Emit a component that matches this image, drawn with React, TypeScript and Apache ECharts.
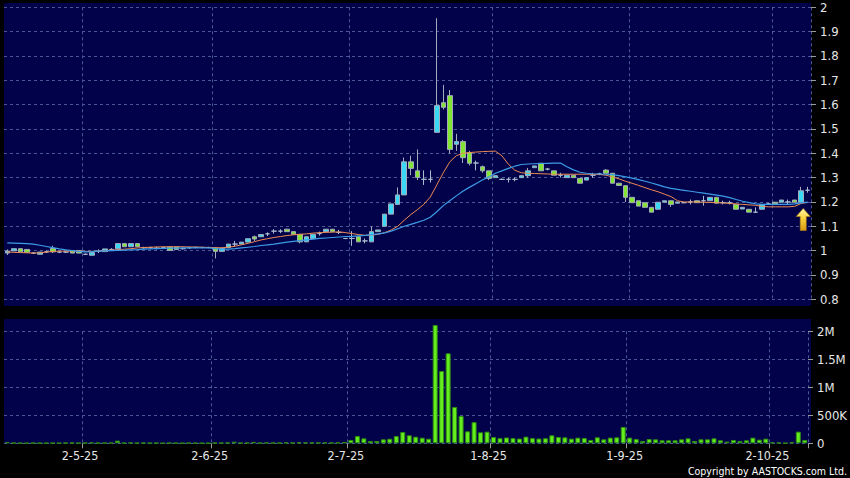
import React, { useEffect, useRef } from "react";
import * as echarts from "echarts";

// Trading days (HK), April–October 2025
const aprDays = [11, 14, 15, 16, 17, 22, 23, 24, 25, 28, 29, 30];
const mayDays = [2, 6, 7, 8, 9, 12, 13, 14, 15, 16, 19, 20, 21, 22, 23, 26, 27, 28, 29, 30];
const junDays = [2, 3, 4, 5, 6, 9, 10, 11, 12, 13, 16, 17, 18, 19, 20, 23, 24, 25, 26, 27, 30];
const julDays = [2, 3, 4, 7, 8, 9, 10, 11, 14, 15, 16, 17, 18, 21, 22, 23, 24, 25, 28, 29, 30, 31];
const augDays = [1, 4, 5, 6, 7, 8, 11, 12, 13, 14, 15, 18, 19, 20, 21, 22, 25, 26, 27, 28, 29];
const sepDays = [1, 2, 3, 4, 5, 8, 9, 10, 11, 12, 15, 16, 17, 18, 19, 22, 23, 24, 25, 26, 29, 30];
const octDays = [2, 3, 6, 8, 9, 10];

const labelDates = ["2-5-25", "2-6-25", "2-7-25", "1-8-25", "1-9-25", "2-10-25"];

const opens = [
  0.990, 0.999, 1.008, 1.005, 0.990, 0.985, 0.995, 1.009, 0.994, 0.994, 1.000, 1.000,
  0.985, 0.981, 0.997, 0.996, 1.005, 1.008, 1.029, 1.016, 1.029, 1.012, 1.012, 1.010,
  1.012, 1.015, 1.015, 1.008, 1.012, 1.013, 1.013, 1.013, 1.011, 0.997, 1.013, 1.027,
  1.027, 1.035, 1.057, 1.057, 1.069, 1.080, 1.080, 1.088, 1.078, 1.067, 1.036, 1.050,
  1.070, 1.078, 1.088, 1.075, 1.050, 1.050, 1.057, 1.040, 1.036, 1.078, 1.100, 1.150,
  1.190, 1.229, 1.365, 1.328, 1.293, 1.293, 1.486, 1.608, 1.637, 1.437, 1.448, 1.403,
  1.360, 1.345, 1.328, 1.300, 1.293, 1.293, 1.293, 1.300, 1.308, 1.341, 1.359, 1.335,
  1.328, 1.310, 1.300, 1.310, 1.297, 1.290, 1.310, 1.315, 1.331, 1.318, 1.277, 1.267,
  1.219, 1.205, 1.197, 1.178, 1.170, 1.199, 1.205, 1.195, 1.197, 1.200, 1.205, 1.205,
  1.205, 1.219, 1.197, 1.197, 1.190, 1.171, 1.170, 1.158, 1.170, 1.192, 1.199, 1.199,
  1.200, 1.208, 1.199, 1.248,
];
const closes = [
  0.998, 1.008, 0.995, 0.993, 0.990, 0.994, 0.995, 0.995, 0.994, 0.994, 0.990, 0.990,
  0.985, 0.992, 0.997, 1.007, 1.005, 1.029, 1.016, 1.029, 1.016, 1.012, 1.012, 1.010,
  1.012, 1.001, 1.005, 1.008, 1.012, 1.013, 1.013, 1.013, 0.997, 1.009, 1.027, 1.027,
  1.035, 1.049, 1.048, 1.066, 1.069, 1.080, 1.080, 1.078, 1.067, 1.036, 1.057, 1.067,
  1.070, 1.088, 1.078, 1.075, 1.050, 1.050, 1.036, 1.040, 1.078, 1.085, 1.150, 1.192,
  1.229, 1.365, 1.338, 1.301, 1.293, 1.293, 1.596, 1.589, 1.416, 1.448, 1.382, 1.359,
  1.360, 1.328, 1.297, 1.308, 1.293, 1.293, 1.293, 1.308, 1.328, 1.348, 1.328, 1.335,
  1.310, 1.310, 1.310, 1.300, 1.277, 1.300, 1.310, 1.315, 1.318, 1.277, 1.268, 1.219,
  1.197, 1.183, 1.178, 1.158, 1.199, 1.205, 1.190, 1.200, 1.197, 1.200, 1.197, 1.205,
  1.219, 1.195, 1.197, 1.197, 1.170, 1.178, 1.158, 1.158, 1.190, 1.192, 1.192, 1.208,
  1.200, 1.199, 1.246, 1.248,
];
const lows = [
  0.982, 0.999, 0.995, 0.993, 0.986, 0.985, 0.990, 0.990, 0.990, 0.990, 0.990, 0.990,
  0.982, 0.981, 0.990, 0.996, 1.000, 1.005, 1.016, 1.016, 1.016, 1.008, 1.008, 1.005,
  1.008, 1.001, 1.005, 1.005, 1.008, 1.010, 1.010, 1.010, 0.968, 0.997, 1.013, 1.015,
  1.027, 1.035, 1.040, 1.057, 1.060, 1.070, 1.072, 1.078, 1.067, 1.030, 1.036, 1.050,
  1.062, 1.078, 1.078, 1.068, 1.047, 1.020, 1.036, 1.030, 1.036, 1.078, 1.100, 1.150,
  1.190, 1.229, 1.310, 1.290, 1.270, 1.280, 1.486, 1.580, 1.400, 1.410, 1.360, 1.350,
  1.330, 1.320, 1.290, 1.300, 1.290, 1.280, 1.285, 1.300, 1.300, 1.341, 1.328, 1.330,
  1.310, 1.300, 1.300, 1.300, 1.277, 1.290, 1.300, 1.310, 1.318, 1.277, 1.268, 1.200,
  1.197, 1.183, 1.178, 1.158, 1.170, 1.199, 1.180, 1.195, 1.195, 1.190, 1.197, 1.185,
  1.205, 1.195, 1.190, 1.190, 1.170, 1.171, 1.158, 1.158, 1.170, 1.188, 1.192, 1.199,
  1.190, 1.199, 1.199, 1.238,
];
const highs = [
  1.005, 1.008, 1.008, 1.005, 0.994, 0.994, 1.000, 1.020, 0.998, 0.998, 1.000, 1.000,
  0.988, 0.992, 1.005, 1.007, 1.010, 1.029, 1.029, 1.029, 1.029, 1.016, 1.016, 1.016,
  1.016, 1.015, 1.015, 1.012, 1.016, 1.016, 1.016, 1.016, 1.013, 1.009, 1.027, 1.040,
  1.035, 1.049, 1.062, 1.066, 1.075, 1.088, 1.088, 1.090, 1.078, 1.067, 1.057, 1.067,
  1.078, 1.088, 1.088, 1.085, 1.052, 1.080, 1.057, 1.050, 1.100, 1.085, 1.150, 1.192,
  1.260, 1.383, 1.390, 1.416, 1.330, 1.330, 1.955, 1.681, 1.660, 1.480, 1.455, 1.410,
  1.370, 1.350, 1.328, 1.308, 1.296, 1.300, 1.300, 1.308, 1.340, 1.348, 1.359, 1.340,
  1.328, 1.320, 1.310, 1.310, 1.297, 1.300, 1.320, 1.320, 1.335, 1.318, 1.277, 1.267,
  1.219, 1.205, 1.197, 1.178, 1.199, 1.205, 1.205, 1.200, 1.200, 1.210, 1.205, 1.225,
  1.219, 1.219, 1.205, 1.205, 1.190, 1.178, 1.170, 1.178, 1.190, 1.196, 1.199, 1.208,
  1.210, 1.208, 1.262, 1.262,
];
const ma10 = [
  0.995, 0.993, 0.992, 0.991, 0.990, 0.991, 0.994, 0.997, 0.998, 0.998, 0.998, 0.998,
  0.997, 0.997, 0.998, 1.000, 1.002, 1.004, 1.006, 1.008, 1.011, 1.013, 1.014, 1.015,
  1.016, 1.016, 1.016, 1.016, 1.015, 1.015, 1.014, 1.013, 1.012, 1.012, 1.014, 1.018,
  1.024, 1.030, 1.037, 1.044, 1.049, 1.054, 1.058, 1.062, 1.065, 1.067, 1.069, 1.072,
  1.074, 1.075, 1.076, 1.077, 1.074, 1.070, 1.066, 1.063, 1.064, 1.067, 1.074, 1.085,
  1.100, 1.125, 1.148, 1.168, 1.190, 1.220, 1.270, 1.320, 1.365, 1.390, 1.400, 1.403,
  1.405, 1.407, 1.408, 1.409, 1.390, 1.355, 1.330, 1.320, 1.318, 1.317, 1.316, 1.315,
  1.314, 1.314, 1.314, 1.314, 1.314, 1.314, 1.314, 1.313, 1.310, 1.303, 1.295, 1.285,
  1.277, 1.268, 1.259, 1.250, 1.242, 1.232, 1.222, 1.205, 1.200, 1.200, 1.200, 1.199,
  1.198, 1.197, 1.196, 1.194, 1.192, 1.190, 1.188, 1.186, 1.182, 1.180, 1.180, 1.180,
  1.180, 1.182, 1.194, 1.198,
];
const ma20 = [
  1.032, 1.031, 1.030, 1.029, 1.027, 1.022, 1.017, 1.012, 1.007, 1.003, 1.000, 0.997,
  0.995, 0.996, 0.998, 0.999, 1.000, 1.001, 1.002, 1.003, 1.004, 1.006, 1.007, 1.008,
  1.009, 1.010, 1.010, 1.011, 1.011, 1.011, 1.011, 1.011, 1.008, 1.006, 1.006, 1.008,
  1.011, 1.014, 1.017, 1.021, 1.024, 1.027, 1.031, 1.035, 1.038, 1.041, 1.044, 1.047,
  1.050, 1.052, 1.054, 1.056, 1.058, 1.059, 1.061, 1.063, 1.066, 1.069, 1.073, 1.080,
  1.090, 1.100, 1.108, 1.116, 1.125, 1.137, 1.160, 1.185, 1.205, 1.225, 1.244, 1.260,
  1.275, 1.290, 1.303, 1.318, 1.328, 1.338, 1.347, 1.354, 1.356, 1.357, 1.358, 1.359,
  1.360, 1.360, 1.345, 1.332, 1.322, 1.318, 1.316, 1.315, 1.314, 1.312, 1.308, 1.303,
  1.298, 1.292, 1.285, 1.278, 1.270, 1.262, 1.256, 1.252, 1.248, 1.244, 1.240, 1.236,
  1.232, 1.228, 1.224, 1.218, 1.210, 1.203, 1.197, 1.192, 1.190, 1.190, 1.190, 1.190,
  1.190, 1.192, 1.196, 1.199,
];
// volume in thousands of shares
const volumeK = [
  20, 8, 6, 5, 8, 5, 6, 8, 5, 10, 12, 6,
  8, 15, 8, 10, 12, 48, 10, 15, 8, 12, 6, 8,
  5, 8, 6, 5, 8, 6, 5, 4, 10, 8, 12, 28,
  8, 12, 25, 10, 15, 12, 10, 15, 12, 18, 15, 14,
  12, 15, 12, 15, 23, 59, 130, 89, 41, 41, 71, 82,
  130, 202, 143, 118, 100, 82, 2112, 1291, 1607, 648, 488, 214,
  378, 196, 208, 112, 92, 104, 92, 85, 119, 92, 85, 90,
  143, 113, 107, 83, 101, 95, 60, 107, 71, 101, 107, 292,
  101, 77, 42, 77, 71, 54, 54, 54, 71, 89, 42, 71,
  71, 89, 54, 30, 60, 42, 54, 101, 65, 83, 18, 12,
  5, 18, 208, 60,
];

const ARROW_PRICE = 1.128;

const monthDays: [number, number[]][] = [
  [4, aprDays], [5, mayDays], [6, junDays], [7, julDays], [8, augDays], [9, sepDays], [10, octDays],
];
const categories = monthDays.flatMap(([m, ds]) => ds.map((d) => `${d}-${m}-25`));
const labelIdx = new Set(labelDates.map((d) => categories.indexOf(d)));
const showAt = (i: number) => labelIdx.has(i);

const NAVY = "#02024a";
const GRID_LINE = "#4b5894";
const TEXT = "#e6e6e6";
const FONT = "'Liberation Sans Narrow','Arial Narrow','DejaVu Sans Condensed',sans-serif";

export default function App() {
  const ref = useRef<HTMLDivElement>(null);
  useEffect(() => {
    if (!ref.current) return;
    const chart = echarts.init(ref.current, null, { renderer: "svg" });
    const candles = categories.map((_, i) => [opens[i], closes[i], lows[i], highs[i]]);
    const dashed = { show: true, lineStyle: { color: GRID_LINE, type: [3, 3] as any, width: 1 } };
    const fmtVol = (v: number) => (v === 0 ? "0" : v >= 1e6 ? `${v / 1e6}M` : `${v / 1e3}K`);
    chart.setOption({
      animation: false,
      backgroundColor: "#000000",
      graphic: [
        { type: "rect", z: -10, silent: true, shape: { x: 4, y: 3, width: 807, height: 303 }, style: { fill: NAVY } },
        { type: "rect", z: -10, silent: true, shape: { x: 4, y: 319, width: 807, height: 125 }, style: { fill: NAVY } },
        {
          type: "text", right: 3, top: 465,
          style: { text: "Copyright by AASTOCKS.com Ltd.", fill: "#ffffff", font: `10.5px ${FONT}` },
        },
      ],
      grid: [
        { left: 4, right: 39, top: 7.3, height: 292 },
        { left: 4, right: 39, top: 331.3, height: 112 },
      ],
      xAxis: [
        {
          type: "category", gridIndex: 0, data: categories, boundaryGap: true,
          axisLine: { show: false }, axisTick: { show: false }, axisLabel: { show: false },
          splitLine: { ...dashed, interval: (i: number) => showAt(i) },
        },
        {
          type: "category", gridIndex: 1, data: categories, boundaryGap: true,
          axisLine: { show: false },
          axisTick: { show: true, interval: (i: number) => showAt(i), length: 5, lineStyle: { color: "#9a9a9a" } },
          axisLabel: {
            interval: (i: number) => showAt(i), color: TEXT, fontSize: 12.5, fontFamily: FONT,
            margin: 6, padding: [0, 10, 0, 0],
          },
          splitLine: { ...dashed, interval: (i: number) => showAt(i) },
        },
      ],
      yAxis: [
        {
          type: "value", gridIndex: 0, position: "right", min: 0.8, max: 2, interval: 0.1,
          axisLine: { show: false },
          axisTick: { show: true, length: 5, lineStyle: { color: "#9a9a9a" } },
          axisLabel: { color: TEXT, fontSize: 13, fontFamily: FONT, margin: 9, formatter: (v: number) => String(+v.toFixed(1)) },
          splitLine: dashed,
        },
        {
          type: "value", gridIndex: 1, position: "right", min: 0, max: 2000000, interval: 500000,
          axisLine: { show: false },
          axisTick: { show: true, length: 5, lineStyle: { color: "#9a9a9a" } },
          axisLabel: { color: TEXT, fontSize: 13, fontFamily: FONT, margin: 9, formatter: fmtVol },
          splitLine: dashed,
        },
      ],
      series: [
        {
          type: "candlestick", xAxisIndex: 0, yAxisIndex: 0, data: candles, barWidth: 5,
          itemStyle: {
            color: "#3ad8f4", color0: "#84e434",
            borderColor: "#a4aabb", borderColor0: "#a4aabb", borderColorDoji: "#a9bbcf", borderWidth: 1,
          },
          markPoint: {
            symbol: "path://M7,0 L14,8 L10,8 L10,22 L4,22 L4,8 L0,8 Z",
            symbolSize: [14, 22], symbolOffset: [2, 0], label: { show: false }, silent: true,
            itemStyle: {
              color: new echarts.graphic.LinearGradient(0, 0, 0, 1, [
                { offset: 0, color: "#fff6a8" }, { offset: 0.45, color: "#f7d23a" }, { offset: 1, color: "#d99a12" },
              ]),
              borderColor: "#b8821a", borderWidth: 0.6,
            },
            data: [{ coord: [categories[categories.length - 2], ARROW_PRICE] }],
          },
        },
        {
          type: "line", xAxisIndex: 0, yAxisIndex: 0, data: ma10, showSymbol: false, symbol: "none",
          lineStyle: { color: "#ee8a52", width: 1 }, z: 3,
        },
        {
          type: "line", xAxisIndex: 0, yAxisIndex: 0, data: ma20, showSymbol: false, symbol: "none",
          lineStyle: { color: "#3c9ce8", width: 1.2 }, z: 3,
        },
        {
          type: "bar", xAxisIndex: 1, yAxisIndex: 1, data: volumeK.map((v) => v * 1000), barWidth: 5, clip: false,
          itemStyle: { color: "#64ee1e", borderColor: "#2e8c10", borderWidth: 1 },
        },
      ],
    });
    return () => chart.dispose();
  }, []);
  return <div ref={ref} style={{ position: "fixed", left: 0, top: 0, width: 850, height: 478 }} />;
}
